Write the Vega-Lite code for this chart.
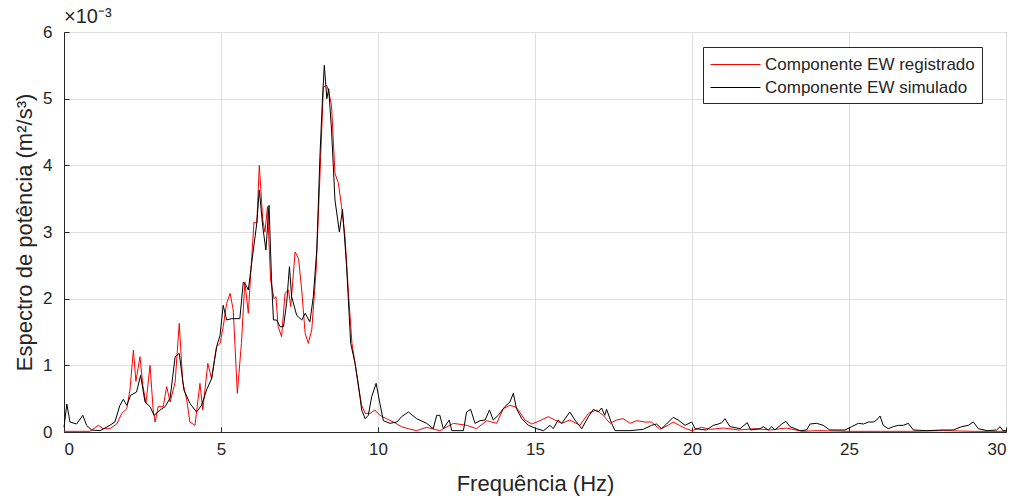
{
  "$schema": "https://vega.github.io/schema/vega-lite/v6.json",
  "width": 942,
  "height": 400,
  "autosize": "none",
  "padding": {"left": 64, "top": 32, "right": 13, "bottom": 69},
  "background": "white",
  "title": {"text": "×10⁻³", "anchor": "start", "frame": "group", "orient": "top", "offset": -4, "fontSize": 20, "fontWeight": "normal", "font": "Liberation Sans", "color": "#262626", "dx": 0},
  "config": {
    "view": {"stroke": "#262626", "strokeWidth": 1},
    "axis": {"labelFont": "Liberation Sans", "titleFont": "Liberation Sans", "labelFontSize": 17, "titleFontSize": 22, "titleFontWeight": "normal", "labelColor": "#262626", "titleColor": "#262626", "domainColor": "#262626", "tickColor": "#262626", "gridColor": "#dedede", "gridOpacity": 1}
  },
  "datasets": {
    "registrado": [
      {"f":0,"p":0.01},{"f":0.5,"p":0.01},{"f":0.82,"p":0.01},{"f":1.09,"p":0.1},{"f":1.25,"p":0.05},{"f":1.46,"p":0.05},{"f":1.68,"p":0.12},{"f":1.84,"p":0.28},{"f":2.0,"p":0.35},{"f":2.1,"p":0.63},{"f":2.21,"p":1.23},{"f":2.29,"p":0.76},{"f":2.42,"p":1.13},{"f":2.51,"p":0.7},{"f":2.61,"p":0.43},{"f":2.74,"p":1.0},{"f":2.84,"p":0.33},{"f":2.9,"p":0.15},{"f":3.0,"p":0.38},{"f":3.16,"p":0.38},{"f":3.27,"p":0.68},{"f":3.38,"p":0.45},{"f":3.54,"p":0.75},{"f":3.67,"p":1.63},{"f":3.78,"p":0.75},{"f":3.91,"p":0.48},{"f":4.01,"p":0.15},{"f":4.17,"p":0.1},{"f":4.33,"p":0.73},{"f":4.42,"p":0.33},{"f":4.58,"p":1.03},{"f":4.7,"p":0.8},{"f":4.86,"p":1.28},{"f":4.97,"p":1.33},{"f":5.07,"p":1.58},{"f":5.18,"p":1.93},{"f":5.29,"p":2.08},{"f":5.39,"p":1.83},{"f":5.52,"p":0.58},{"f":5.65,"p":1.33},{"f":5.76,"p":2.25},{"f":5.87,"p":1.78},{"f":5.98,"p":2.63},{"f":6.05,"p":3.15},{"f":6.14,"p":3.13},{"f":6.22,"p":4.0},{"f":6.33,"p":3.18},{"f":6.4,"p":3.0},{"f":6.48,"p":3.38},{"f":6.58,"p":2.28},{"f":6.69,"p":2.0},{"f":6.75,"p":2.03},{"f":6.82,"p":1.58},{"f":6.93,"p":1.43},{"f":7.04,"p":2.08},{"f":7.15,"p":2.13},{"f":7.22,"p":1.88},{"f":7.36,"p":2.7},{"f":7.47,"p":2.6},{"f":7.57,"p":2.13},{"f":7.68,"p":1.48},{"f":7.78,"p":1.33},{"f":7.89,"p":1.53},{"f":8.03,"p":2.43},{"f":8.15,"p":3.83},{"f":8.26,"p":5.18},{"f":8.37,"p":5.2},{"f":8.43,"p":5.1},{"f":8.52,"p":4.9},{"f":8.63,"p":3.88},{"f":8.74,"p":3.73},{"f":8.84,"p":3.38},{"f":8.95,"p":2.93},{"f":9.06,"p":2.08},{"f":9.17,"p":1.33},{"f":9.27,"p":1.03},{"f":9.37,"p":0.7},{"f":9.48,"p":0.4},{"f":9.59,"p":0.28},{"f":9.75,"p":0.28},{"f":9.9,"p":0.33},{"f":10.06,"p":0.25},{"f":10.27,"p":0.2},{"f":10.49,"p":0.15},{"f":10.75,"p":0.08},{"f":10.96,"p":0.05},{"f":11.23,"p":0.02},{"f":11.55,"p":0.07},{"f":11.97,"p":0.02},{"f":12.4,"p":0.13},{"f":12.82,"p":0.1},{"f":13.14,"p":0.05},{"f":13.46,"p":0.17},{"f":13.78,"p":0.13},{"f":13.99,"p":0.35},{"f":14.2,"p":0.4},{"f":14.41,"p":0.37},{"f":14.68,"p":0.18},{"f":14.9,"p":0.12},{"f":15.16,"p":0.17},{"f":15.42,"p":0.23},{"f":15.63,"p":0.18},{"f":15.85,"p":0.13},{"f":16.11,"p":0.18},{"f":16.43,"p":0.1},{"f":16.7,"p":0.28},{"f":16.96,"p":0.33},{"f":17.17,"p":0.25},{"f":17.39,"p":0.13},{"f":17.6,"p":0.18},{"f":17.81,"p":0.2},{"f":18.03,"p":0.13},{"f":18.24,"p":0.17},{"f":18.5,"p":0.15},{"f":18.71,"p":0.15},{"f":18.98,"p":0.04},{"f":19.24,"p":0.1},{"f":19.4,"p":0.15},{"f":19.6,"p":0.1},{"f":19.8,"p":0.05},{"f":20.0,"p":0.02},{"f":20.3,"p":0.07},{"f":20.6,"p":0.04},{"f":21.0,"p":0.06},{"f":21.5,"p":0.03},{"f":22.0,"p":0.05},{"f":22.5,"p":0.03},{"f":23.0,"p":0.06},{"f":23.5,"p":0.01},{"f":24,"p":0.02},{"f":25,"p":0.01},{"f":26,"p":0.01},{"f":27,"p":0.01},{"f":28,"p":0.02},{"f":29,"p":0.01},{"f":30,"p":0.01}
    ],
    "simulado": [
      {"f":0,"p":0.07},{"f":0.09,"p":0.42},{"f":0.19,"p":0.15},{"f":0.4,"p":0.12},{"f":0.6,"p":0.25},{"f":0.72,"p":0.1},{"f":0.88,"p":0.03},{"f":1.15,"p":0.02},{"f":1.46,"p":0.1},{"f":1.62,"p":0.15},{"f":1.78,"p":0.4},{"f":1.89,"p":0.49},{"f":2.0,"p":0.4},{"f":2.12,"p":0.55},{"f":2.31,"p":0.6},{"f":2.44,"p":0.85},{"f":2.58,"p":0.45},{"f":2.74,"p":0.38},{"f":2.87,"p":0.25},{"f":3.06,"p":0.33},{"f":3.22,"p":0.38},{"f":3.38,"p":0.51},{"f":3.54,"p":1.13},{"f":3.67,"p":1.18},{"f":3.82,"p":0.63},{"f":4.01,"p":0.43},{"f":4.22,"p":0.3},{"f":4.38,"p":0.4},{"f":4.54,"p":0.63},{"f":4.7,"p":0.8},{"f":4.86,"p":1.28},{"f":4.97,"p":1.45},{"f":5.07,"p":1.9},{"f":5.18,"p":1.68},{"f":5.34,"p":1.7},{"f":5.6,"p":1.7},{"f":5.71,"p":2.25},{"f":5.8,"p":2.2},{"f":5.87,"p":2.13},{"f":6.03,"p":2.73},{"f":6.14,"p":3.13},{"f":6.22,"p":3.63},{"f":6.33,"p":3.08},{"f":6.43,"p":2.73},{"f":6.53,"p":3.4},{"f":6.61,"p":2.28},{"f":6.67,"p":1.68},{"f":6.77,"p":1.68},{"f":6.88,"p":1.58},{"f":6.99,"p":1.58},{"f":7.09,"p":1.93},{"f":7.18,"p":2.48},{"f":7.25,"p":2.03},{"f":7.41,"p":1.75},{"f":7.57,"p":1.68},{"f":7.68,"p":1.78},{"f":7.83,"p":1.65},{"f":7.94,"p":2.03},{"f":8.05,"p":2.73},{"f":8.15,"p":4.13},{"f":8.23,"p":4.98},{"f":8.29,"p":5.5},{"f":8.37,"p":5.0},{"f":8.43,"p":5.15},{"f":8.52,"p":4.53},{"f":8.63,"p":3.48},{"f":8.77,"p":3.0},{"f":8.87,"p":3.34},{"f":9.0,"p":2.48},{"f":9.13,"p":1.33},{"f":9.27,"p":1.03},{"f":9.37,"p":0.73},{"f":9.48,"p":0.33},{"f":9.59,"p":0.2},{"f":9.69,"p":0.25},{"f":9.8,"p":0.53},{"f":9.94,"p":0.73},{"f":10.06,"p":0.43},{"f":10.17,"p":0.17},{"f":10.38,"p":0.13},{"f":10.6,"p":0.15},{"f":10.75,"p":0.23},{"f":10.97,"p":0.3},{"f":11.23,"p":0.2},{"f":11.55,"p":0.13},{"f":11.76,"p":0.05},{"f":11.87,"p":0.25},{"f":11.97,"p":0.25},{"f":12.08,"p":0.05},{"f":12.27,"p":0.18},{"f":12.35,"p":0.02},{"f":12.72,"p":0.02},{"f":12.82,"p":0.3},{"f":12.95,"p":0.34},{"f":13.09,"p":0.13},{"f":13.25,"p":0.17},{"f":13.41,"p":0.18},{"f":13.55,"p":0.33},{"f":13.67,"p":0.18},{"f":13.83,"p":0.25},{"f":14.04,"p":0.38},{"f":14.2,"p":0.45},{"f":14.31,"p":0.58},{"f":14.41,"p":0.35},{"f":14.58,"p":0.2},{"f":14.79,"p":0.1},{"f":15.05,"p":0.05},{"f":15.27,"p":0.02},{"f":15.48,"p":0.1},{"f":15.58,"p":0.05},{"f":15.74,"p":0.18},{"f":15.85,"p":0.13},{"f":16.11,"p":0.3},{"f":16.27,"p":0.18},{"f":16.49,"p":0.05},{"f":16.7,"p":0.23},{"f":16.86,"p":0.34},{"f":17.01,"p":0.3},{"f":17.12,"p":0.36},{"f":17.22,"p":0.25},{"f":17.28,"p":0.34},{"f":17.44,"p":0.13},{"f":17.55,"p":0.02},{"f":18.03,"p":0.02},{"f":18.45,"p":0.04},{"f":18.71,"p":0.1},{"f":18.87,"p":0.12},{"f":19.03,"p":0.05},{"f":19.19,"p":0.12},{"f":19.4,"p":0.22},{"f":19.56,"p":0.18},{"f":19.78,"p":0.1},{"f":19.99,"p":0.15},{"f":20.1,"p":0.05},{"f":20.46,"p":0.03},{"f":20.68,"p":0.1},{"f":20.84,"p":0.12},{"f":20.95,"p":0.14},{"f":21.05,"p":0.2},{"f":21.21,"p":0.08},{"f":21.53,"p":0.05},{"f":21.76,"p":0.14},{"f":21.87,"p":0.03},{"f":22.17,"p":0.05},{"f":22.27,"p":0.08},{"f":22.43,"p":0.03},{"f":22.54,"p":0.08},{"f":22.64,"p":0.03},{"f":22.86,"p":0.12},{"f":22.99,"p":0.16},{"f":23.12,"p":0.08},{"f":23.44,"p":0.02},{"f":23.65,"p":0.03},{"f":23.76,"p":0.12},{"f":23.97,"p":0.13},{"f":24.18,"p":0.1},{"f":24.39,"p":0.03},{"f":24.87,"p":0.03},{"f":25.08,"p":0.08},{"f":25.3,"p":0.13},{"f":25.46,"p":0.12},{"f":25.62,"p":0.15},{"f":25.78,"p":0.15},{"f":25.88,"p":0.18},{"f":25.99,"p":0.24},{"f":26.09,"p":0.1},{"f":26.25,"p":0.05},{"f":26.41,"p":0.08},{"f":26.57,"p":0.1},{"f":26.73,"p":0.1},{"f":26.89,"p":0.13},{"f":27.05,"p":0.03},{"f":27.47,"p":0.02},{"f":28.0,"p":0.03},{"f":28.32,"p":0.03},{"f":28.59,"p":0.08},{"f":28.8,"p":0.1},{"f":28.96,"p":0.15},{"f":29.12,"p":0.05},{"f":29.39,"p":0.02},{"f":29.7,"p":0.03},{"f":29.81,"p":0.08},{"f":29.9,"p":0.02},{"f":30,"p":0.02}
    ]
  },
  "encoding": {
    "x": {"field": "f", "type": "quantitative", "scale": {"domain": [0, 30], "nice": false}, "axis": {"title": "Frequência (Hz)", "values": [0,5,10,15,20,25,30], "tickSize": -5, "labelPadding": 14, "titlePadding": 16}},
    "y": {"field": "p", "type": "quantitative", "scale": {"domain": [0, 6], "nice": false}, "axis": {"title": "Espectro de potência (m²/s³)", "values": [0,1,2,3,4,5,6], "tickSize": -5, "labelPadding": 17, "titlePadding": 6}},
    "color": {"field": "s", "type": "nominal", "scale": {"domain": ["Componente EW registrado", "Componente EW simulado"], "range": ["#ff0000", "#000000"]},
      "legend": {"title": null, "orient": "none", "legendX": 639, "legendY": 15, "symbolType": "M-2.5,0H2.5", "symbolSize": 400, "symbolOffset": 15, "symbolStrokeWidth": 1, "symbolFillColor": "transparent", "labelFont": "Liberation Sans", "labelFontSize": 17, "labelLimit": 400, "labelColor": "#262626", "fillColor": "white", "strokeColor": "#262626", "padding": 7, "rowPadding": 4, "labelOffset": 19}}
  },
  "layer": [
    {"data": {"name": "registrado"}, "transform": [{"calculate": "'Componente EW registrado'", "as": "s"}], "mark": {"type": "line", "strokeWidth": 1, "interpolate": "linear"}},
    {"data": {"name": "simulado"}, "transform": [{"calculate": "'Componente EW simulado'", "as": "s"}], "mark": {"type": "line", "strokeWidth": 1, "interpolate": "linear"}}
  ]
}
